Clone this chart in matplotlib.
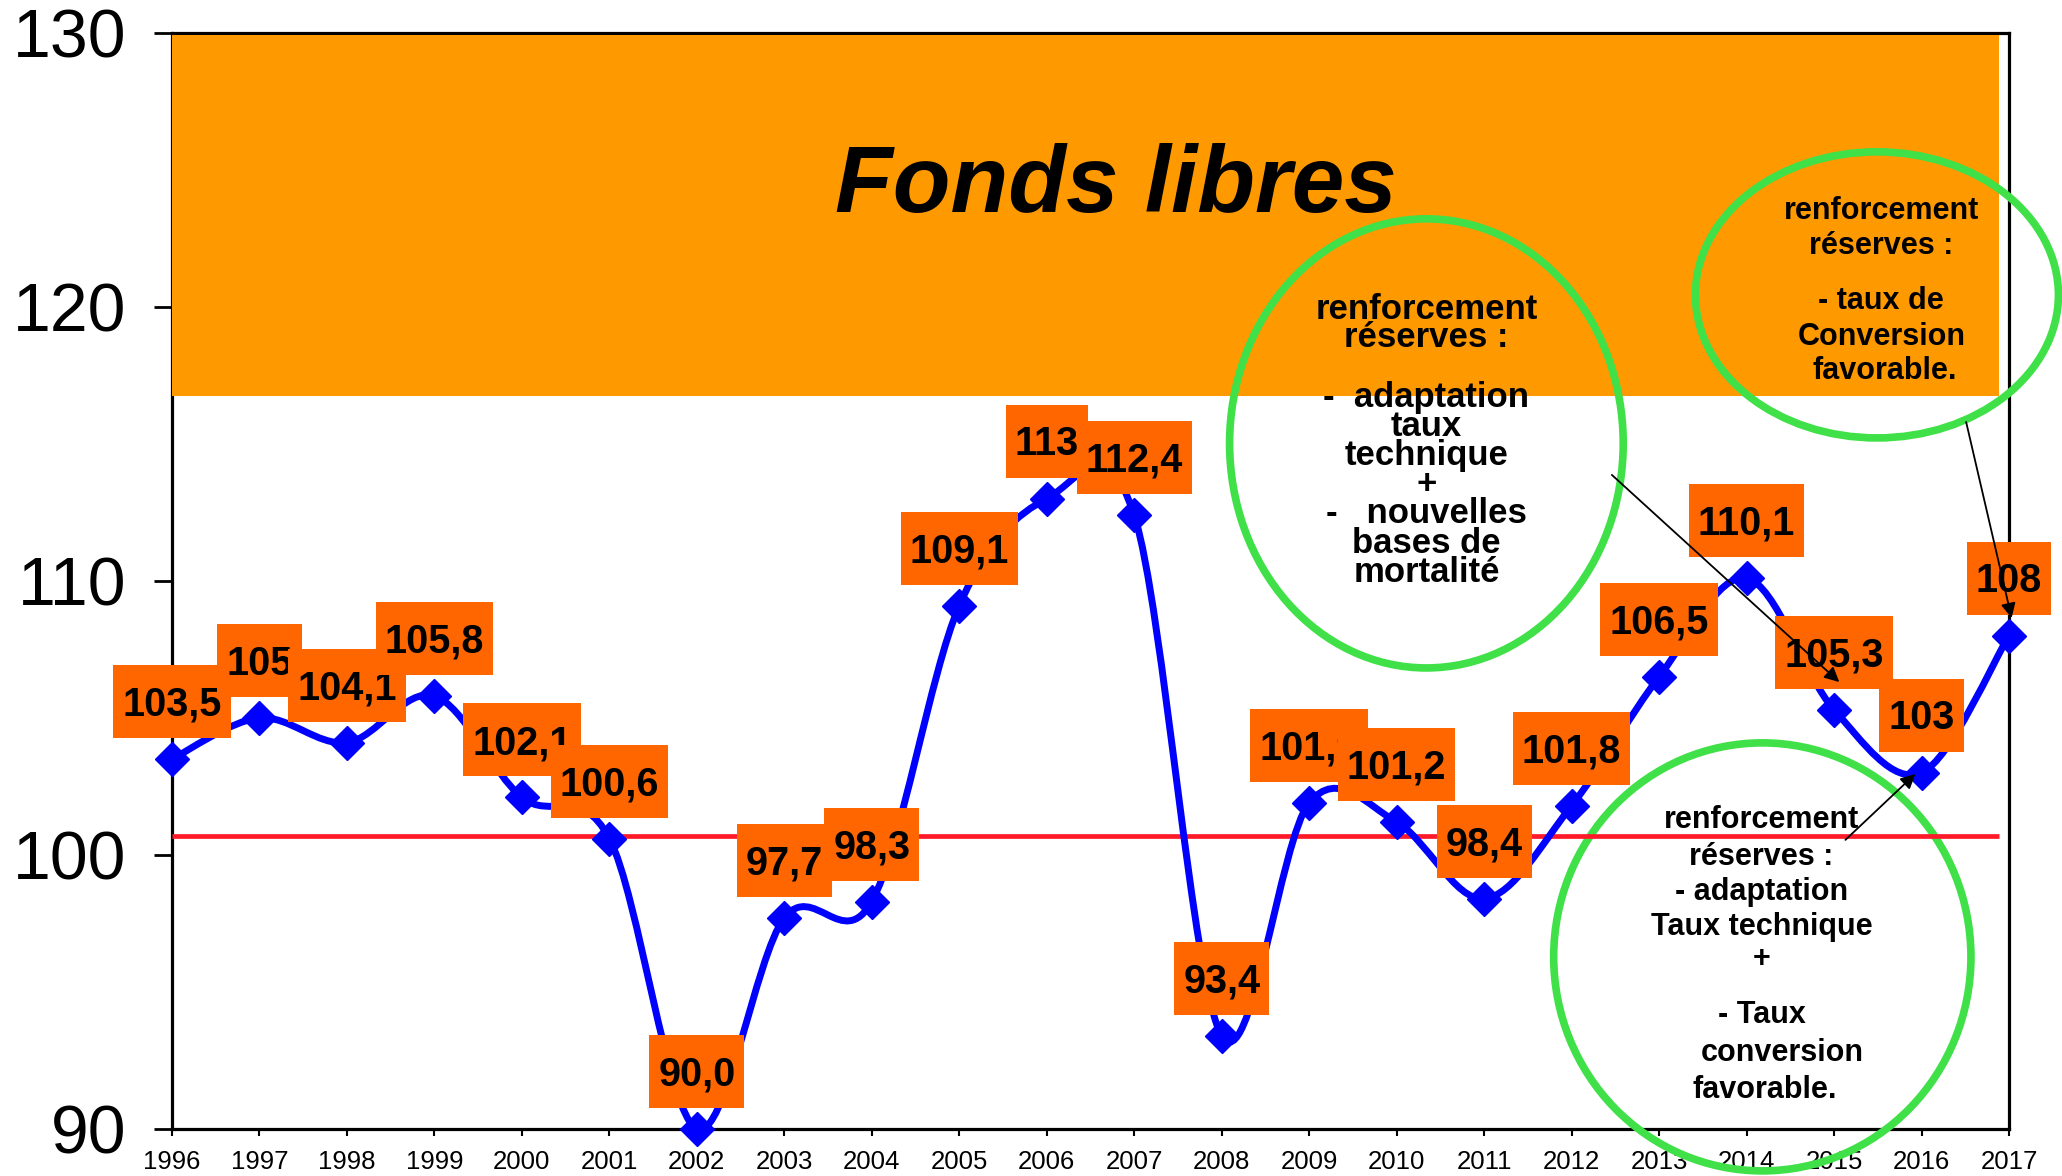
import matplotlib.pyplot as plt
from matplotlib.path import Path
from matplotlib.patches import PathPatch, Ellipse, Rectangle
from matplotlib.transforms import IdentityTransform

plt.rcParams['font.family'] = ['Liberation Sans', 'DejaVu Sans']

# Données
years = list(range(1996, 2018))
values = [103.5, 105.0, 104.1, 105.8, 102.1, 100.6, 90.0, 97.7, 98.3, 109.1,
          113.0, 112.4, 93.4, 101.9, 101.2, 98.4, 101.8, 106.5, 110.1, 105.3,
          103.0, 108.0]
labels = ["103,5", "105", "104,1", "105,8", "102,1", "100,6", "90,0", "97,7",
          "98,3", "109,1", "113", "112,4", "93,4", "101,9", "101,2", "98,4",
          "101,8", "106,5", "110,1", "105,3", "103", "108"]
seuil = 100.7             # ligne rouge
fonds_libres_bas = 116.75  # bas de la zone orange
yticks = [90, 100, 110, 120, 130]

BLUE = '#0000FF'
GREEN = '#40E048'

fig = plt.figure(figsize=(20.62, 11.76), dpi=100)
ax = fig.add_axes([0.0834, 0.0400, 0.8909, 0.9320])
ax.set_xlim(1996, 2017)
ax.set_ylim(90, 130)

# zone "Fonds libres"
x_end = 2016.89
ax.axhspan(fonds_libres_bas, 129.92, xmin=0, xmax=(x_end - 1996) / 21,
           color='#FF9900', lw=0, zorder=2.6)
ax.text(2006.79, 123.47, 'Fonds libres', fontsize=68, fontweight='bold',
        fontstyle='italic', ha='center', va='baseline', zorder=8)

# ligne rouge
ax.hlines(seuil, 1996, x_end, color='#FF1A2A', lw=3.4, zorder=2.8)

# courbe lissée (Bezier type Excel)
pts = list(zip(years, values))
n = len(pts)
verts = [pts[0]]
codes = [Path.MOVETO]
for i in range(n - 1):
    p0 = pts[i - 1] if i > 0 else pts[i]
    p1, p2 = pts[i], pts[i + 1]
    p3 = pts[i + 2] if i + 2 < n else pts[i + 1]
    c1 = (p1[0] + (p2[0] - p0[0]) / 6, p1[1] + (p2[1] - p0[1]) / 6)
    c2 = (p2[0] - (p3[0] - p1[0]) / 6, p2[1] - (p3[1] - p1[1]) / 6)
    verts += [c1, c2, p2]
    codes += [Path.CURVE4] * 3
ax.add_patch(PathPatch(Path(verts, codes), fill=False, edgecolor=BLUE, lw=5,
                       zorder=3, clip_on=False))
ax.plot(years, values, 'D', ms=17.5, color=BLUE, mec=BLUE, mew=1,
        zorder=4, clip_on=False)

# ellipses vertes
for cx, cy, w, h in [(2010.34, 115.02, 4.50, 16.39),
                     (2015.49, 120.44, 4.15, 10.44),
                     (2014.18, 96.28, 4.77, 15.62)]:
    ax.add_patch(Ellipse((cx, cy), w, h, fill=False, edgecolor=GREEN,
                         lw=5.5, zorder=2.7, clip_on=False))

def bloc(items, fs):
    for x, y, s in items:
        ax.text(x, y, s, ha='center', va='baseline', fontsize=fs,
                fontweight='bold', zorder=8, clip_on=False)

bloc([(2010.34, 119.56, "renforcement"), (2010.34, 118.54, "réserves :"),
      (2010.34, 116.35, "-  adaptation"), (2010.34, 115.29, "taux"),
      (2010.34, 114.23, "technique"), (2010.34, 113.18, "+"),
      (2010.34, 112.12, "-   nouvelles"), (2010.34, 111.02, "bases de"),
      (2010.34, 109.96, "mortalité")], 25)
bloc([(2015.54, 123.21, "renforcement"), (2015.54, 121.93, "réserves :"),
      (2015.54, 119.93, "- taux de"), (2015.54, 118.61, "Conversion"),
      (2015.58, 117.37, "favorable.")], 22)
bloc([(2014.17, 100.99, "renforcement"), (2014.17, 99.64, "réserves :"),
      (2014.17, 98.36, "- adaptation"), (2014.17, 97.08, "Taux technique"),
      (2014.17, 95.91, "+"), (2014.17, 93.87, "- Taux"),
      (2014.41, 92.48, "conversion"), (2014.21, 91.13, "favorable.")], 22)

# flèches
for start, end in [((2012.46, 113.87), (2015.06, 106.31)),
                   ((2016.51, 115.80), (2017.03, 108.65)),
                   ((2015.13, 100.55), (2015.93, 102.96))]:
    ax.annotate('', xy=end, xytext=start, zorder=60, annotation_clip=False,
                arrowprops=dict(arrowstyle='-|>', color='black', lw=1.3,
                                mutation_scale=22, shrinkA=0, shrinkB=0))

# axes
for s in ax.spines.values():
    s.set_linewidth(2.3)
ax.set_yticks(yticks)
ax.set_yticklabels([str(v) for v in yticks])
ax.set_xticks(years)
ax.set_xticklabels([str(y) for y in years])
ax.tick_params(axis='y', length=13, width=2, pad=20, labelsize=49)
ax.tick_params(axis='x', length=5, width=1.5, pad=10, labelsize=18.5)

# étiquettes de valeurs
texts = []
for i, (yr, v, lab) in enumerate(zip(years, values, labels)):
    t = ax.annotate(lab, xy=(yr, v), xytext=(0, 31.2),
                    textcoords='offset points', ha='center', va='baseline',
                    fontsize=28.5, fontweight='bold', zorder=11 + 2 * i,
                    annotation_clip=False)
    texts.append(t)

fig.canvas.draw()
for i, (yr, v, t) in enumerate(zip(years, values, texts)):
    bb = t.get_window_extent()
    px, py = ax.transData.transform((yr, v))
    cy = py + 57.5
    ax.add_patch(Rectangle((bb.x0 - 9, cy - 36.5), bb.width + 18, 73,
                           transform=IdentityTransform(), facecolor='#FF6600',
                           edgecolor='none', zorder=10 + 2 * i, clip_on=False))

fig.savefig('out.png', dpi=100)
